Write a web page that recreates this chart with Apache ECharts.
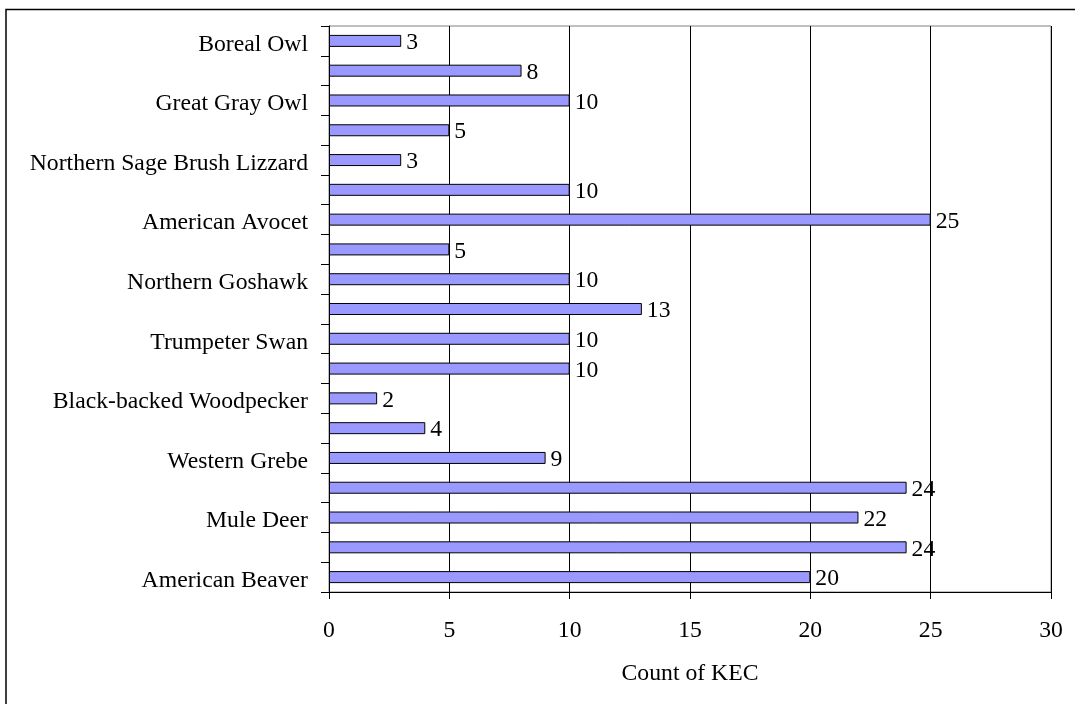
<!DOCTYPE html>
<html>
<head>
<meta charset="utf-8">
<script src="https://cdn.jsdelivr.net/npm/echarts@6/dist/echarts.min.js"></script>
<style>
  html, body { margin: 0; padding: 0; background: #fff; }
  #chart { width: 1075px; height: 704px; }
</style>
</head>
<body>
<div id="chart"></div>
<script>
// Species listed bottom to top; only every other row carries a label.
const species = [
  'American Beaver', '', 'Mule Deer', '', 'Western Grebe', '',
  'Black-backed Woodpecker', '', 'Trumpeter Swan', '', 'Northern Goshawk', '',
  'American Avocet', '', 'Northern Sage Brush Lizzard', '', 'Great Gray Owl', '',
  'Boreal Owl'
];
const kecCounts = [20, 24, 22, 24, 9, 4, 2, 10, 10, 13, 10, 5, 25, 10, 3, 5, 10, 8, 3];
const xTicks = [0, 5, 10, 15, 20, 25, 30];

const FONT = '"Liberation Serif", "Times New Roman", serif';
const FS = 23.7;
const chart = echarts.init(document.getElementById('chart'), null, { renderer: 'canvas' });

chart.setOption({
  animation: false,
  backgroundColor: '#fff',
  graphic: [{
    type: 'rect',
    silent: true,
    shape: { x: 6, y: 9.5, width: 1200, height: 900 },
    style: { fill: 'none', stroke: '#000', lineWidth: 1.5 }
  }],
  grid: {
    left: 329, right: 24, top: 26, bottom: 112,
    show: true, borderColor: '#808080', borderWidth: 1, backgroundColor: 'transparent'
  },
  xAxis: {
    type: 'value',
    min: xTicks[0],
    max: xTicks[xTicks.length - 1],
    interval: xTicks[1] - xTicks[0],
    name: 'Count of KEC',
    nameLocation: 'middle',
    nameGap: 70,
    nameTextStyle: { fontFamily: FONT, fontSize: FS, color: '#000' },
    axisLine: { show: true, lineStyle: { color: '#000', width: 1 } },
    axisTick: { show: true, inside: false, length: 7, lineStyle: { color: '#000' } },
    axisLabel: { fontFamily: FONT, fontSize: FS, color: '#000', margin: 27 },
    splitLine: { show: true, lineStyle: { color: '#000', width: 1 } }
  },
  yAxis: {
    type: 'category',
    data: species,
    axisLine: { show: true, lineStyle: { color: '#000', width: 1 } },
    axisTick: { show: true, interval: 0, alignWithLabel: false, length: 8, lineStyle: { color: '#000' } },
    axisLabel: {
      interval: 0, fontFamily: FONT, fontSize: FS, color: '#000', margin: 21,
      // a short line box anchored at its top sits the text a little below the row centre
      verticalAlign: 'top', lineHeight: 7
    },
    splitLine: { show: false }
  },
  series: [{
    type: 'bar',
    data: kecCounts,
    barWidth: 12,
    itemStyle: { color: '#9999FF', borderColor: '#000', borderWidth: 1 },
    label: {
      show: true,
      position: 'right',
      distance: 5,
      offset: [0, 2],
      fontFamily: FONT,
      fontSize: FS,
      color: '#000'
    }
  }]
});
</script>
</body>
</html>
